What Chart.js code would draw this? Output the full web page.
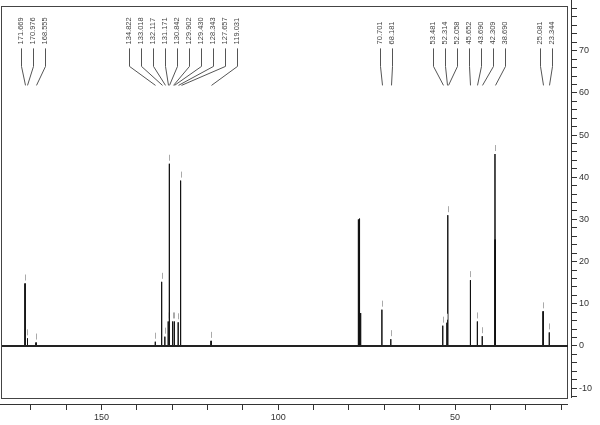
<!DOCTYPE html>
<html>
<head>
<meta charset="utf-8">
<script src="https://cdn.jsdelivr.net/npm/chart.js@4.4.1/dist/chart.umd.min.js"></script>
<style>
  html, body { margin: 0; padding: 0; background: #fff; }
  #wrap { width: 600px; height: 425px; }
</style>
</head>
<body>
<div id="wrap"><canvas id="nmrChart" width="600" height="425"></canvas></div>
<script>
// labelled 13C lines (ppm) and their heights
const peakShifts = [171.669, 170.976, 168.555, 134.822, 133.018, 132.117, 131.171, 130.842, 129.902, 129.430, 128.343, 127.657, 119.031, 70.701, 68.181, 53.481, 52.314, 52.058, 45.652, 43.690, 42.309, 38.690, 25.081, 23.344];
const peakHeights = [14.8, 1.8, 0.8, 1.0, 15.2, 2.2, 5.8, 43.2, 5.8, 5.8, 5.6, 39.2, 1.2, 8.6, 1.6, 4.8, 5.5, 31.0, 15.6, 5.8, 2.3, 45.5, 8.2, 3.2];
// lines with no label (solvent triplet, shoulder)
const otherShifts = [77.35, 77.03, 76.71, 38.66];
const otherHeights = [30.0, 30.2, 7.8, 25.2];
// axes
const ppmRange = [17.18, 178.18];
const intensityRange = [-13.77, 80.27];
const ppmLabels = [150, 100, 50];
const intensityLabels = [-10, 0, 10, 20, 30, 40, 50, 60, 70];

const allLines = peakShifts.map((p, i) => ({ ppm: p, h: peakHeights[i] }))
    .concat(otherShifts.map((p, i) => ({ ppm: p, h: otherHeights[i] })))
    .sort((a, b) => b.ppm - a.ppm);

const halfWidth = 0.03;
const trace = [{ x: ppmRange[1], y: 0 }];
allLines.forEach(l => {
    trace.push({ x: l.ppm + halfWidth, y: 0 }, { x: l.ppm, y: l.h }, { x: l.ppm - halfWidth, y: 0 });
});
trace.push({ x: ppmRange[0], y: 0 });

const baseline = [{ x: ppmRange[1], y: 0 }, { x: ppmRange[0], y: 0 }];

const crisp = v => Math.round(v) + 0.5;

// frame box and the detached axis lines
const framePlugin = {
    id: 'frame',
    beforeDatasetsDraw(chart) {
        const { ctx, chartArea } = chart;
        ctx.save();
        ctx.strokeStyle = '#444';
        ctx.lineWidth = 1;
        ctx.strokeRect(crisp(chartArea.left - 1), crisp(chartArea.top - 1),
            Math.round(chartArea.right - 3 - chartArea.left), Math.round(chartArea.bottom - 5 - chartArea.top));
        ctx.strokeStyle = '#333';
        ctx.beginPath();
        ctx.moveTo(0, crisp(chartArea.bottom - 0.5));
        ctx.lineTo(chartArea.right - 3, crisp(chartArea.bottom - 0.5));
        ctx.moveTo(crisp(chartArea.right - 0.5), 0);
        ctx.lineTo(crisp(chartArea.right - 0.5), chartArea.bottom - 6);
        ctx.stroke();
        ctx.restore();
    }
};

// peak labels with connectors and small markers over each peak
const peakLabelPlugin = {
    id: 'peakLabels',
    afterDatasetsDraw(chart) {
        const { ctx, chartArea, scales: { x, y } } = chart;
        const gap = 12;
        const items = peakShifts.map((p, i) => ({
            text: p.toFixed(3),
            px: x.getPixelForValue(p),
            topY: y.getPixelForValue(peakHeights[i])
        })).sort((a, b) => a.px - b.px);

        const place = g => {
            const c = (g[0].px + g[g.length - 1].px) / 2;
            let start = c - gap * (g.length - 1) / 2;
            start = Math.max(start, chartArea.left + 19);
            g.forEach((it, k) => { it.lx = start + k * gap; });
        };
        let groups = items.map(it => [it]);
        let merged = true;
        while (merged) {
            merged = false;
            groups.forEach(place);
            for (let i = 0; i < groups.length - 1; i++) {
                const a = groups[i], b = groups[i + 1];
                if (b[0].lx - a[a.length - 1].lx < gap) {
                    groups.splice(i, 2, a.concat(b));
                    merged = true;
                    break;
                }
            }
        }

        const top = chartArea.top;
        ctx.save();
        ctx.font = '7.5px "Liberation Sans", Arial, sans-serif';
        ctx.fillStyle = '#444';
        ctx.textAlign = 'left';
        ctx.textBaseline = 'middle';
        items.forEach(it => {
            ctx.save();
            ctx.translate(it.lx, top + 37);
            ctx.rotate(-Math.PI / 2);
            ctx.fillText(it.text, 0, 0);
            ctx.restore();
        });

        ctx.strokeStyle = '#555';
        ctx.lineWidth = 1;
        ctx.beginPath();
        items.forEach(it => {
            ctx.moveTo(crisp(it.lx), top + 41);
            ctx.lineTo(crisp(it.lx), top + 59);
            ctx.lineTo(crisp(it.px), top + 78);
        });
        ctx.stroke();

        ctx.strokeStyle = '#aaa';
        ctx.beginPath();
        items.forEach(it => {
            ctx.moveTo(crisp(it.px), it.topY - 3);
            ctx.lineTo(crisp(it.px), it.topY - 9);
        });
        ctx.stroke();
        ctx.restore();
    }
};

const tickFont = { family: '"Liberation Sans", Arial, sans-serif', size: 9 };

new Chart(document.getElementById('nmrChart').getContext('2d'), {
    type: 'line',
    data: {
        datasets: [
            {
                data: baseline,
                borderColor: '#222',
                borderWidth: 2,
                pointRadius: 0,
                fill: false,
                clip: { left: 0, top: 0, right: -3, bottom: -5 }
            },
            {
                data: trace,
                borderColor: '#111',
                borderWidth: 1,
                pointRadius: 0,
                tension: 0,
                fill: false,
                clip: { left: 0, top: 0, right: -3, bottom: -5 }
            }
        ]
    },
    options: {
        responsive: false,
        animation: false,
        devicePixelRatio: 1,
        layout: { padding: { left: 2, top: 1, right: 0, bottom: 0 } },
        plugins: { legend: { display: false }, tooltip: { enabled: false } },
        scales: {
            x: {
                type: 'linear',
                reverse: true,
                min: ppmRange[0],
                max: ppmRange[1],
                afterFit: s => { s.height = 21; },
                border: { display: false },
                grid: { drawOnChartArea: false, drawTicks: true, tickLength: 6, tickColor: '#333' },
                ticks: {
                    stepSize: 10,
                    includeBounds: false,
                    autoSkip: false,
                    maxRotation: 0,
                    padding: 2,
                    color: '#333',
                    font: tickFont,
                    callback: v => ppmLabels.includes(Math.round(v)) ? String(Math.round(v)) : ''
                }
            },
            y: {
                type: 'linear',
                position: 'right',
                min: intensityRange[0],
                max: intensityRange[1],
                afterFit: s => { s.width = 29; },
                border: { display: false },
                grid: { drawOnChartArea: false, drawTicks: true, tickLength: 6, tickColor: '#333' },
                ticks: {
                    stepSize: 2,
                    includeBounds: false,
                    autoSkip: false,
                    padding: 2,
                    color: '#333',
                    font: tickFont,
                    callback: v => intensityLabels.includes(Math.round(v)) ? String(Math.round(v)) : ''
                }
            }
        }
    },
    plugins: [framePlugin, peakLabelPlugin]
});
</script>
</body>
</html>
